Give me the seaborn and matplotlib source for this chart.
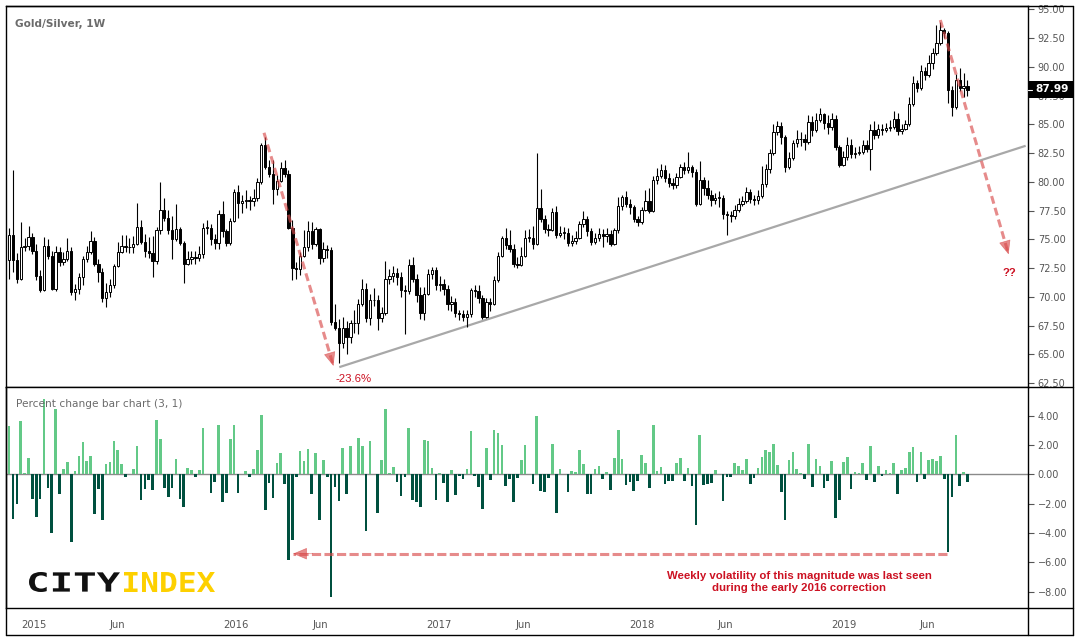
import numpy as np
import pandas as pd
import matplotlib
matplotlib.use("Agg")
import matplotlib.pyplot as plt
import matplotlib.dates as mdates
from matplotlib.lines import Line2D
from matplotlib.patches import Rectangle, PathPatch
from matplotlib.textpath import TextPath
from matplotlib.transforms import Affine2D, blended_transform_factory
from matplotlib.font_manager import FontProperties
import seaborn as sns

# ---------------- data ----------------
first_week = "2014-11-17"
first_open = 73.2

close = [
    75.4, 73.2, 71.6, 74.3, 74.4, 75.2, 74.0, 71.8, 70.6, 74.4,
    73.6, 70.7, 73.9, 73.0, 73.3, 74.0, 70.4, 70.7, 71.7, 73.3,
    73.9, 74.9, 72.9, 72.2, 69.9, 70.4, 71.0, 72.7, 73.9, 74.4,
    74.3, 74.3, 74.6, 76.1, 74.8, 74.0, 73.8, 73.1, 75.8, 77.6,
    76.9, 75.8, 75.0, 75.9, 74.7, 72.9, 73.3, 73.5, 73.4, 73.7,
    76.0, 76.0, 75.0, 74.7, 77.2, 75.7, 74.7, 76.6, 79.1, 78.2,
    78.3, 78.4, 78.3, 78.6, 80.0, 83.2, 81.3, 80.7, 79.4, 80.1,
    81.2, 80.7, 76.0, 72.5, 72.4, 73.6, 74.3, 75.7, 74.6, 75.9,
    73.4, 74.2, 74.1, 67.8, 67.3, 66.0, 67.3, 66.5, 67.7, 67.7,
    69.4, 70.7, 68.2, 69.7, 69.7, 68.2, 68.6, 71.6, 71.8, 72.1,
    71.7, 70.6, 70.5, 72.8, 71.6, 70.2, 68.6, 70.3, 72.0, 72.3,
    71.0, 71.1, 70.7, 69.4, 69.6, 68.6, 68.5, 68.3, 68.5, 70.6,
    70.5, 69.9, 68.3, 69.6, 69.4, 71.5, 73.6, 75.1, 74.5, 74.2,
    72.9, 72.8, 73.6, 75.1, 75.1, 74.6, 77.7, 76.8, 75.9, 75.8,
    77.4, 75.4, 75.6, 75.6, 74.7, 74.9, 75.1, 76.3, 76.8, 75.7,
    74.8, 75.1, 75.5, 75.3, 75.5, 74.6, 75.8, 77.9, 78.7, 78.1,
    77.8, 76.8, 76.5, 77.6, 78.3, 77.5, 80.2, 80.5, 81.0, 80.3,
    79.9, 79.7, 80.4, 81.3, 81.0, 81.3, 80.9, 78.1, 80.2, 79.5,
    78.9, 78.4, 78.6, 78.6, 77.2, 77.1, 77.0, 77.6, 78.1, 78.3,
    79.1, 78.5, 78.4, 78.8, 79.8, 81.1, 82.5, 84.3, 84.9, 83.9,
    81.3, 82.1, 83.35, 83.7, 83.7, 83.5, 85.2, 84.5, 85.4, 85.9,
    85.1, 84.8, 85.5, 83.0, 81.5, 82.2, 83.2, 82.4, 82.5, 82.6,
    83.2, 82.9, 84.5, 84.1, 84.6, 84.5, 84.7, 84.8, 85.5, 84.4,
    84.6, 85.0, 86.8, 88.6, 88.2, 89.6, 89.3, 90.3, 91.2, 92.1,
    93.2, 92.9, 87.95, 86.5, 88.9, 88.2, 88.35, 87.99,
]

high = [
    76.0, 81.0, 73.8, 76.5, 75.1, 76.2, 75.6, 74.6, 72.3, 75.2,
    75.0, 74.0, 74.4, 74.3, 73.9, 75.1, 74.3, 71.1, 72.1, 73.6,
    74.4, 75.7, 75.2, 73.3, 72.5, 71.2, 71.6, 72.9, 74.8, 75.4,
    75.4, 75.1, 75.3, 78.2, 76.7, 75.5, 75.2, 75.3, 76.1, 80.0,
    78.6, 77.6, 77.0, 78.1, 76.1, 74.9, 74.0, 74.0, 74.0, 74.4,
    76.4, 76.7, 76.3, 75.5, 77.6, 78.3, 75.9, 76.9, 79.4, 79.7,
    78.9, 79.3, 78.8, 79.4, 80.3, 83.4, 83.9, 81.9, 81.9, 80.6,
    81.7, 81.9, 81.0, 76.7, 73.0, 73.9, 75.8, 76.6, 76.5, 76.1,
    76.0, 74.8, 74.5, 74.3, 69.4, 68.1, 68.3, 67.9, 68.0, 68.9,
    69.8, 71.6, 71.2, 70.3, 70.8, 70.2, 69.1, 73.1, 72.4, 72.7,
    72.5, 72.2, 71.0, 73.3, 73.5, 72.0, 70.9, 70.9, 72.4, 72.6,
    72.6, 71.8, 71.6, 71.0, 70.1, 69.9, 68.9, 68.9, 68.9, 70.8,
    71.0, 71.0, 70.2, 69.9, 69.9, 71.8, 73.9, 75.3, 76.0, 75.8,
    74.6, 73.5, 74.3, 75.8, 75.9, 76.2, 82.5, 79.4, 77.1, 76.3,
    77.7, 77.9, 76.2, 76.1, 76.0, 75.4, 75.7, 76.6, 77.5, 77.0,
    76.0, 75.6, 76.0, 75.9, 76.0, 75.8, 76.0, 78.7, 78.9, 79.2,
    78.5, 78.0, 77.0, 77.8, 79.3, 79.5, 80.5, 81.2, 81.6, 81.5,
    80.8, 80.3, 80.8, 81.6, 81.7, 82.6, 81.5, 81.1, 81.8, 80.4,
    80.2, 79.3, 79.0, 79.2, 78.9, 77.5, 77.5, 78.0, 78.6, 78.8,
    79.6, 79.4, 78.9, 79.3, 81.4, 81.6, 82.9, 85.0, 85.3, 85.2,
    84.1, 82.6, 83.6, 84.5, 84.3, 84.2, 85.8, 85.7, 86.0, 86.4,
    86.0, 85.8, 86.0, 85.8, 83.2, 82.7, 83.9, 83.7, 83.0, 83.1,
    83.6, 83.6, 85.0, 85.3, 85.0, 85.0, 85.1, 85.4, 86.2, 86.0,
    85.0, 85.4, 87.4, 89.2, 88.9, 90.2, 90.0, 91.0, 91.6, 93.6,
    93.9, 93.4, 93.1, 88.3, 89.4, 89.9, 89.5, 88.9,
]

low = [
    71.6, 72.2, 71.2, 71.5, 74.0, 74.1, 73.7, 71.5, 70.4, 70.5,
    73.3, 70.6, 70.5, 72.7, 72.8, 73.1, 70.2, 69.7, 70.3, 71.0,
    73.0, 73.7, 72.7, 71.3, 69.6, 69.1, 70.0, 70.8, 72.6, 73.8,
    73.9, 73.8, 73.8, 74.5, 74.6, 73.5, 73.4, 71.7, 72.9, 75.5,
    76.6, 75.5, 73.3, 74.9, 74.5, 71.2, 72.8, 72.9, 72.9, 73.1,
    73.4, 75.5, 74.5, 74.2, 74.2, 75.2, 74.4, 74.5, 76.5, 76.9,
    77.3, 77.7, 77.6, 77.9, 78.3, 79.8, 81.1, 80.4, 78.1, 78.9,
    80.0, 80.4, 75.9, 71.5, 71.6, 71.9, 73.5, 74.0, 74.2, 74.4,
    72.9, 73.0, 73.4, 67.6, 67.1, 64.3, 65.6, 65.0, 66.0, 66.9,
    66.8, 69.2, 67.8, 67.6, 69.2, 67.1, 67.8, 68.4, 71.1, 71.3,
    71.0, 70.0, 66.8, 70.3, 71.3, 69.6, 68.1, 68.0, 70.2, 71.6,
    70.6, 70.5, 70.2, 68.9, 68.8, 68.3, 68.0, 67.9, 67.4, 68.3,
    70.0, 69.5, 68.1, 68.2, 68.8, 69.3, 71.3, 73.5, 74.2, 73.9,
    72.6, 72.5, 72.7, 73.5, 74.8, 74.2, 74.5, 76.5, 75.6, 75.3,
    75.7, 75.1, 75.2, 75.0, 74.4, 74.4, 74.6, 75.0, 76.1, 75.3,
    74.5, 74.6, 74.9, 74.3, 74.8, 74.4, 74.5, 75.6, 77.6, 77.8,
    77.2, 76.5, 76.2, 76.3, 77.5, 77.3, 77.4, 79.8, 80.3, 80.0,
    79.6, 79.4, 79.5, 80.3, 80.7, 80.8, 80.4, 77.9, 78.0, 78.9,
    78.5, 77.9, 78.1, 77.8, 76.8, 75.4, 76.5, 76.8, 77.4, 77.9,
    78.2, 78.2, 78.0, 78.1, 78.6, 79.6, 80.8, 82.3, 84.1, 83.3,
    80.9, 81.1, 81.9, 83.0, 83.1, 82.8, 83.3, 84.0, 84.3, 85.2,
    84.6, 84.2, 84.5, 82.8, 81.3, 81.4, 81.9, 82.1, 82.1, 82.3,
    82.4, 82.6, 81.0, 83.7, 83.8, 84.1, 84.3, 84.4, 84.6, 84.1,
    84.2, 84.5, 84.9, 86.6, 87.8, 88.0, 88.9, 89.1, 89.8, 91.0,
    91.9, 92.5, 86.9, 85.7, 86.3, 87.9, 87.4, 87.5,
]

pct_change = [
    3.26, -3.06, -2.0, 3.6, 0.1, 1.14, -1.69, -2.92, -1.69, 5.16,
    -0.91, -4.0, 4.47, -1.32, 0.37, 0.87, -4.61, 0.23, 1.26, 2.21,
    0.91, 1.26, -2.69, -0.98, -3.1, 0.71, 0.84, 2.28, 1.67, 0.71,
    -0.16, 0.0, 0.37, 1.94, -1.74, -0.98, -0.37, -1.05, 3.72, 2.42,
    -0.91, -1.53, -0.91, 1.05, -1.67, -2.21, 0.43, 0.3, -0.16, 0.3,
    3.13, 0.0, -1.26, -0.5, 3.33, -1.9, -1.26, 2.42, 3.33, -1.26,
    0.0, 0.23, -0.16, 0.37, 1.67, 4.06, -2.42, -0.57, -1.6, 0.78,
    1.46, -0.64, -5.84, -4.45, -0.16, 1.6, 0.91, 1.74, -1.32, 1.46,
    -3.1, 0.98, -0.16, -8.38, -0.84, -1.8, 1.8, -1.32, 1.94, 0.0,
    2.49, 1.94, -3.86, 2.28, 0.0, -2.63, 0.98, 4.47, 0.1, 0.5,
    -0.5, -1.46, -0.16, 3.17, -1.74, -1.87, -2.21, 2.35, 2.28, 0.43,
    -1.74, 0.1, -0.57, -1.87, 0.3, -1.39, -0.1, -0.34, 0.37, 2.97,
    -0.1, -0.84, -2.35, 1.8, -0.37, 3.04, 2.83, 2.0, -0.78, -0.3,
    -1.87, -0.23, 0.98, 2.0, 0.0, -0.64, 4.0, -1.12, -1.19, -0.23,
    2.08, -2.63, 0.37, 0.0, -1.19, 0.23, 0.16, 1.67, 0.71, -1.32,
    -1.32, 0.37, 0.57, -0.3, 0.16, -1.05, 1.12, 3.04, 1.05, -0.71,
    -0.5, -1.12, -0.43, 1.32, 0.78, -0.91, 3.38, 0.23, 0.5, -0.64,
    -0.43, -0.43, 0.78, 1.12, -0.43, 0.43, -0.78, -3.45, 2.69, -0.71,
    -0.64, -0.57, 0.3, 0.0, -1.8, -0.16, -0.2, 0.78, 0.57, 0.3,
    1.05, -0.64, -0.23, 0.43, 1.19, 1.67, 1.53, 2.08, 0.64, -1.19,
    -3.1, 0.98, 1.53, 0.37, 0.1, -0.3, 2.08, -0.84, 1.05, 0.57,
    -0.91, -0.43, 0.91, -2.97, -1.74, 0.84, 1.19, -0.98, 0.16, 0.1,
    0.78, -0.37, 1.94, -0.5, 0.57, -0.1, 0.3, 0.1, 0.78, -1.32,
    0.3, 0.43, 1.53, 1.87, -0.5, 1.53, -0.3, 0.98, 1.05, 0.91,
    1.26, -0.3, -5.3, -1.53, 2.69, -0.78, 0.16, -0.5,
]

price_ticks = [95.0, 92.5, 90.0, 87.5, 85.0, 82.5, 80.0, 77.5, 75.0,
               72.5, 70.0, 67.5, 65.0, 62.5]
pct_ticks = [4, 2, 0, -2, -4, -6, -8]
x_tick_dates = ["2015-01-01", "2015-06-01", "2016-01-01", "2016-06-01",
                "2017-01-01", "2017-06-01", "2018-01-01", "2018-06-01",
                "2019-01-01", "2019-06-01"]
x_tick_labels = ["2015", "Jun", "2016", "Jun", "2017", "Jun", "2018", "Jun",
                 "2019", "Jun"]
last_price_label = "87.99"
title_text = "Gold/Silver, 1W"
panel_text = "Percent change bar chart (3, 1)"
note_text = ("Weekly volatility of this magnitude was last seen\n"
             "during the early 2016 correction")
drop_text = "-23.6%"
question_text = "??"

# ---------------- style ----------------
sns.set_style("white")
plt.rcParams["font.family"] = ["DejaVu Sans"]

W, H = 1080, 642


def fx(px):
    return px / W


def fy(py):
    return 1 - py / H


dates = pd.date_range(first_week, periods=len(close), freq="7D")
xnum = mdates.date2num(dates)
x0 = xnum[0]
opens = [first_open] + close[:-1]
df = pd.DataFrame({"x": xnum, "open": opens, "close": close,
                   "high": high, "low": low, "pct": pct_change})
df["high"] = df[["high", "open", "close"]].max(axis=1)
df["low"] = df[["low", "open", "close"]].min(axis=1)
df["dir"] = np.where(df["pct"] >= 0, "up", "down")


def xk(k):
    return x0 + 7 * k


fig = plt.figure(figsize=(W / 100, H / 100), dpi=100)
fig.patch.set_facecolor("white")

ax1 = fig.add_axes([fx(6), fy(386.7), fx(1028) - fx(6), fy(6) - fy(386.7)])
ax2 = fig.add_axes([fx(6), fy(608), fx(1028) - fx(6), fy(386.7) - fy(608)])

xlim = (xk(-0.8), xk(262.6))
label_col = "#555555"

# ---------------- candles ----------------
up = df["close"] >= df["open"]
ax1.vlines(df["x"], df["low"], df["high"], color="black", lw=0.8, zorder=2)
body_lo = df[["open", "close"]].min(axis=1)
body_h = (df["close"] - df["open"]).abs().clip(lower=0.07)
ax1.bar(df["x"][up], body_h[up], bottom=body_lo[up], width=4.3,
        color="white", edgecolor="black", linewidth=0.7, zorder=3)
ax1.bar(df["x"][~up], body_h[~up], bottom=body_lo[~up], width=4.3,
        color="black", edgecolor="black", linewidth=0.7, zorder=3)

ax1.set_xlim(*xlim)
ax1.set_ylim(62.2, 95.29)
ax1.set_xticks([])
ax1.yaxis.tick_right()
ax1.set_yticks(price_ticks)
ax1.set_yticklabels([f"{v:.2f}" for v in price_ticks])
ax1.tick_params(axis="y", direction="out", length=4, width=0.8,
                color=label_col, labelcolor=label_col, labelsize=7, pad=3)

# trend line
ax1.plot([xk(85.1), xk(262.0)], [63.9, 83.14], color="#a8a8a8", lw=1.6,
         zorder=1.5, solid_capstyle="butt")

# ---------------- percent bars (seaborn) ----------------
sns.barplot(data=df, x="x", y="pct", hue="dir",
            palette={"up": "#63c987", "down": "#00503f"},
            native_scale=True, width=0.68, dodge=False, legend=False,
            errorbar=None, linewidth=0, saturation=1, ax=ax2, zorder=3)
ax2.axhline(0, color="#8a8a8a", lw=1.0, zorder=2)
ax2.set_xlim(*xlim)
ax2.set_ylim(-9.11, 5.97)
ax2.set_xlabel("")
ax2.set_ylabel("")
ax2.yaxis.tick_right()
ax2.set_yticks(pct_ticks)
ax2.set_yticklabels([(f"{v:.2f}" if v >= 0 else "\u2212" + f"{-v:.2f}")
                     for v in pct_ticks])
ax2.tick_params(axis="y", direction="out", length=4, width=0.8,
                color=label_col, labelcolor=label_col, labelsize=7, pad=3)
ax2.set_xticks(mdates.date2num(pd.to_datetime(x_tick_dates)))
ax2.set_xticklabels(x_tick_labels)
ax2.tick_params(axis="x", direction="out", length=4, width=0.8,
                color="black", labelcolor=label_col, labelsize=7.2, pad=5)

for ax in (ax1, ax2):
    for s in ax.spines.values():
        s.set_color("black")
        s.set_linewidth(1.0)

# ---------------- red dashed arrows ----------------
arrow_rgb = (0.85, 0.3, 0.3)


def dashed_arrow(ax, p0, p1, dashes, lw=2.2):
    ax.plot([p0[0], p1[0]], [p0[1], p1[1]], color=arrow_rgb, alpha=0.65,
            lw=lw, linestyle=(0, dashes), zorder=6, dash_capstyle="butt")
    pre = (p1[0] - 0.03 * (p1[0] - p0[0]), p1[1] - 0.03 * (p1[1] - p0[1]))
    ax.annotate("", xy=p1, xytext=pre, zorder=7,
                arrowprops=dict(arrowstyle="-|>,head_length=0.9,head_width=0.38",
                                color=arrow_rgb, alpha=0.65, lw=0.5,
                                shrinkA=0, shrinkB=0, mutation_scale=10))


dashed_arrow(ax1, (xk(65.7), 84.27), (xk(83.6), 64.0), (2.6, 1.4))
dashed_arrow(ax1, (xk(240.0), 94.07), (xk(257.6), 73.7), (2.6, 1.4))
dashed_arrow(ax2, (xk(241.7), -5.41), (xk(73.2), -5.41), (3.0, 1.1))

# ---------------- texts ----------------
fig.text(fx(15), fy(24), title_text, ha="left", va="center", fontsize=7.6,
         fontweight="bold", color="#6b6b6b")
fig.text(fx(15.5), fy(404), panel_text, ha="left", va="center", fontsize=7.6,
         color="#6b6b6b")
fig.text(fx(354), fy(379), drop_text, ha="center", va="center", fontsize=8.2,
         color="#cc1122", family=["Liberation Sans", "DejaVu Sans"])
fig.text(fx(1009), fy(273), question_text, ha="center", va="center",
         fontsize=8, fontweight="bold", color="#cc1122",
         family=["Liberation Sans", "DejaVu Sans"])
fig.text(fx(799.5), fy(582), note_text, ha="center", va="center",
         multialignment="center", fontsize=8.2, fontweight="bold",
         color="#cc1122", linespacing=1.25,
         family=["Liberation Sans", "DejaVu Sans"])

# last price box
fig.add_artist(Rectangle((fx(1028), fy(97.5)), fx(1073) - fx(1028),
                         fy(81) - fy(97.5), transform=fig.transFigure,
                         facecolor="black", edgecolor="none", zorder=10))
fig.add_artist(Line2D([fx(1028), fx(1032)], [fy(89.5), fy(89.5)],
                      transform=fig.transFigure, color="white", lw=0.8,
                      zorder=11))
fig.text(fx(1052), fy(89.5), last_price_label, ha="center", va="center",
         fontsize=7.6, fontweight="bold", color="white", zorder=12)

# ---------------- frame lines ----------------
frame_lines = [
    ((6, 6), (1073, 6)),
    ((1073, 6), (1073, 635)),
    ((6, 635), (1073, 635)),
    ((6, 386.7), (6, 635)),
    ((1028, 386.7), (1073, 386.7)),
    ((1028, 608), (1073, 608)),
    ((1028, 608), (1028, 635)),
]
for (a, b) in frame_lines:
    fig.add_artist(Line2D([fx(a[0]), fx(b[0])], [fy(a[1]), fy(b[1])],
                          transform=fig.transFigure, color="black", lw=1.0,
                          zorder=9))

# ---------------- logo ----------------
logo_fp = FontProperties(family="DejaVu Sans Mono", weight="bold")


def logo_word(word, color, xa, xb, ytop, ybot):
    tp = TextPath((0, 0), word, size=100, prop=logo_fp)
    ext = tp.get_extents()
    sx = (xb - xa) / ext.width
    sy = (ybot - ytop) / ext.height
    tr = (Affine2D().translate(-ext.x0, -ext.y0).scale(sx, sy)
          .translate(xa, H - ybot))
    fig.add_artist(PathPatch(tp, transform=tr, facecolor=color,
                             edgecolor="none", zorder=12))


logo_word("CITY", "#111111", 29, 120, 572, 592)
logo_word("INDEX", "#fdd000", 124, 215, 572, 592)

fig.savefig("out.png", dpi=100, facecolor="white")
